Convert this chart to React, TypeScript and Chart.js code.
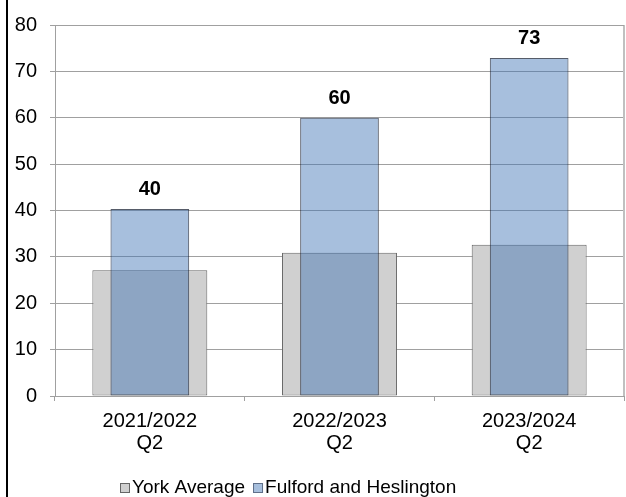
import React, { useEffect, useRef } from "react";
import { Chart, registerables } from "chart.js";

Chart.register(...registerables);

// ---- data ----
const categories: string[][] = [
  ["2021/2022", "Q2"],
  ["2022/2023", "Q2"],
  ["2023/2024", "Q2"],
];
const yorkAverage: number[] = [27.1, 30.9, 32.6];
const fulfordHeslington: number[] = [40.3, 60.0, 72.9];
const seriesNames: string[] = ["York Average", "Fulford and Heslington"];
const yMin = 0;
const yMax = 80;
const yStep = 10;

// ---- styles ----
const FONT = "'Liberation Sans', Arial, sans-serif";
const GRID = "#a0a0a0";
const YORK_FILL = "#d0d0d0";
const YORK_BORDER = "#666666";
const FUL_FILL = "rgba(59,113,179,0.45)";
const FUL_BORDER = "rgba(30,38,55,0.75)";
const FUL_LEGEND_FILL = "#a7bfdd";
const FUL_LEGEND_BORDER = "#5f6f89";

export default function App() {
  const ref = useRef<HTMLCanvasElement>(null);

  useEffect(() => {
    const framePlugin = {
      id: "frame",
      beforeDraw(chart: any) {
        const ctx = chart.ctx;
        ctx.save();
        ctx.fillStyle = "#ffffff";
        ctx.fillRect(0, 0, chart.width, chart.height);
        ctx.fillStyle = "#000000";
        ctx.fillRect(6, 0, 2, chart.height);
        ctx.restore();
      },
      beforeDatasetsDraw(chart: any) {
        const { ctx, chartArea } = chart;
        ctx.save();
        ctx.strokeStyle = "#c0c0c0";
        ctx.lineWidth = 2;
        ctx.beginPath();
        ctx.moveTo(chartArea.right, chartArea.top);
        ctx.lineTo(chartArea.right, chartArea.bottom);
        ctx.stroke();
        ctx.strokeStyle = GRID;
        ctx.lineWidth = 1;
        ctx.beginPath();
        ctx.moveTo(chartArea.left, chartArea.top + 0.5);
        ctx.lineTo(chartArea.right, chartArea.top + 0.5);
        ctx.stroke();
        ctx.restore();
      },
    };

    const labelPlugin = {
      id: "barLabels",
      afterDatasetsDraw(chart: any) {
        const ctx = chart.ctx;
        const meta = chart.getDatasetMeta(1);
        ctx.save();
        ctx.font = `bold 20px ${FONT}`;
        ctx.fillStyle = "#000";
        ctx.textAlign = "center";
        ctx.textBaseline = "alphabetic";
        meta.data.forEach((el: any, i: number) => {
          ctx.fillText(String(Math.round(fulfordHeslington[i])), el.x, el.y - 14);
        });
        ctx.restore();
      },
    };

    const legendPlugin = {
      id: "customLegend",
      afterDraw(chart: any) {
        const ctx = chart.ctx;
        ctx.save();
        ctx.font = `19px ${FONT}`;
        ctx.textBaseline = "middle";
        ctx.textAlign = "left";
        const box = 10;
        const gapBox = 2;
        const gapItem = 8;
        const fills = [YORK_FILL, FUL_LEGEND_FILL];
        const borders = [YORK_BORDER, FUL_LEGEND_BORDER];
        const widths = seriesNames.map((n) => ctx.measureText(n).width);
        const total = widths.reduce((a, w) => a + box + gapBox + w, 0) + gapItem * (seriesNames.length - 1);
        const cx = 288;
        const cy = 488;
        let x = Math.round(cx - total / 2);
        seriesNames.forEach((n, i) => {
          ctx.fillStyle = fills[i];
          ctx.fillRect(x, cy - box / 2, box, box);
          ctx.strokeStyle = borders[i];
          ctx.lineWidth = 1;
          ctx.strokeRect(x + 0.5, cy - box / 2 + 0.5, box - 1, box - 1);
          ctx.fillStyle = "#000";
          ctx.fillText(n, x + box + gapBox, cy);
          x += box + gapBox + widths[i] + gapItem;
        });
        ctx.restore();
      },
    };

    const chart = new Chart(ref.current as HTMLCanvasElement, {
      type: "bar",
      data: {
        labels: categories,
        datasets: [
          {
            label: seriesNames[0],
            data: yorkAverage,
            backgroundColor: YORK_FILL,
            borderColor: YORK_BORDER,
            borderWidth: 1,
            borderSkipped: false,
            grouped: false,
            order: 1,
            barPercentage: 0.606,
            categoryPercentage: 1,
          },
          {
            label: seriesNames[1],
            data: fulfordHeslington,
            backgroundColor: FUL_FILL,
            borderColor: FUL_BORDER,
            borderWidth: 1,
            borderSkipped: false,
            grouped: false,
            order: 0,
            barPercentage: 0.415,
            categoryPercentage: 1,
          },
        ],
      } as any,
      options: {
        responsive: false,
        devicePixelRatio: 1,
        animation: false,
        layout: { padding: { left: 8, right: 2, top: 22, bottom: 31 } },
        plugins: {
          legend: { display: false },
          tooltip: { enabled: false },
        },
        scales: {
          x: {
            offset: true,
            grid: {
              offset: true,
              drawOnChartArea: false,
              drawTicks: true,
              tickLength: 5,
              color: GRID,
            },
            border: { color: GRID },
            ticks: {
              color: "#000",
              font: { family: FONT, size: 20, lineHeight: 1.12 },
              padding: 9,
              maxRotation: 0,
              autoSkip: false,
            },
            afterFit(s: any) {
              s.height = 70;
            },
          },
          y: {
            min: yMin,
            max: yMax,
            grid: { color: GRID, tickLength: 5 },
            border: { color: GRID },
            ticks: {
              stepSize: yStep,
              color: "#000",
              font: { family: FONT, size: 20 },
              padding: 13,
            },
            afterFit(s: any) {
              s.width = 47;
            },
          },
        },
      } as any,
      plugins: [framePlugin, labelPlugin, legendPlugin],
    });
    return () => chart.destroy();
  }, []);

  return (
    <div style={{ position: "fixed", left: 0, top: 0, width: 626, height: 497 }}>
      <canvas ref={ref} width={626} height={497} style={{ display: "block" }} />
    </div>
  );
}
